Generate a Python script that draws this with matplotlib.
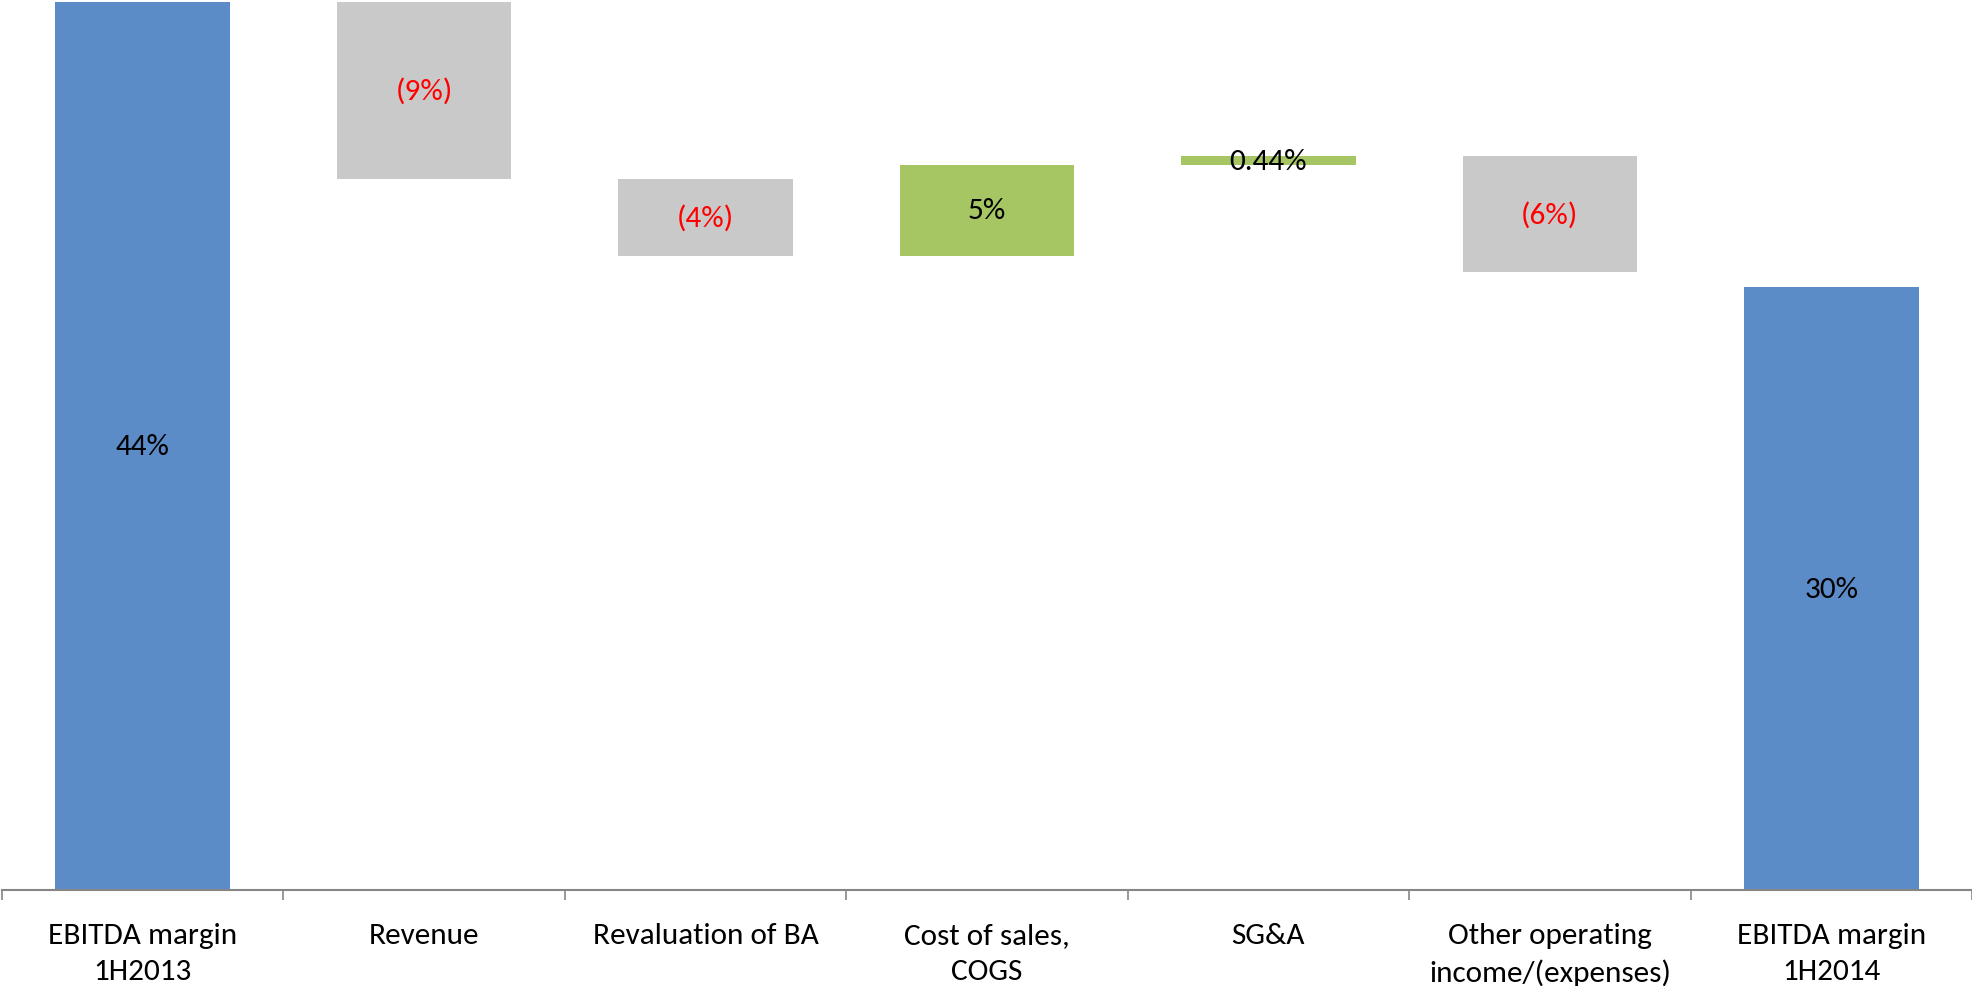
import matplotlib.pyplot as plt

# waterfall data (percent of revenue)
categories = ['EBITDA margin\n1H2013', 'Revenue', 'Revaluation of BA', 'Cost of sales,\nCOGS',
              'SG&A', 'Other operating\nincome/(expenses)', 'EBITDA margin\n1H2014']
start_margin = 44.0
changes = [-8.76, -3.81, 4.5, 0.44, -5.74]
end_margin = 29.9
labels = ['44%', '(9%)', '(4%)', '5%', '0.44%', '(6%)', '30%']

blue = '#5B8CC8'
grey = '#C9C9C9'
green = '#A6C663'

plt.rcParams['font.family'] = ['Carlito', 'Liberation Sans', 'DejaVu Sans']

fig = plt.figure(figsize=(19.72, 9.87), dpi=100)
ax = fig.add_axes([0.001, 0.0968, 0.999, 0.9032])

bottoms = [0]
heights = [start_margin]
colors = [blue]
level = start_margin
for c in changes:
    if c < 0:
        bottoms.append(level + c)
        heights.append(-c)
        colors.append(grey)
    else:
        bottoms.append(level)
        heights.append(c)
        colors.append(green)
    level += c
bottoms.append(0)
heights.append(end_margin)
colors.append(blue)

x = list(range(len(categories)))
ax.bar(x, heights, bottom=bottoms, width=0.62, color=colors, edgecolor='none')

for i in x:
    col = 'red' if labels[i].startswith('(') else 'black'
    ax.text(i, bottoms[i] + heights[i] / 2, labels[i], ha='center', va='center',
            fontsize=22.5, color=col)

ax.set_xlim(-0.5, 6.5)
ax.set_ylim(0, 44.15)
ax.set_yticks([])
for s in ['top', 'right', 'left']:
    ax.spines[s].set_visible(False)
ax.spines['bottom'].set_color('#868686')
ax.spines['bottom'].set_linewidth(1.5)

ax.set_xticks(x)
ax.set_xticklabels(categories, fontsize=22.5, linespacing=1.45)
ax.tick_params(axis='x', which='major', length=0, pad=23)
ax.set_xticks([i - 0.5 for i in range(len(categories) + 1)], minor=True)
ax.tick_params(axis='x', which='minor', length=7, width=1.2, color='#868686', direction='out')

fig.savefig('out.png', dpi=100)
